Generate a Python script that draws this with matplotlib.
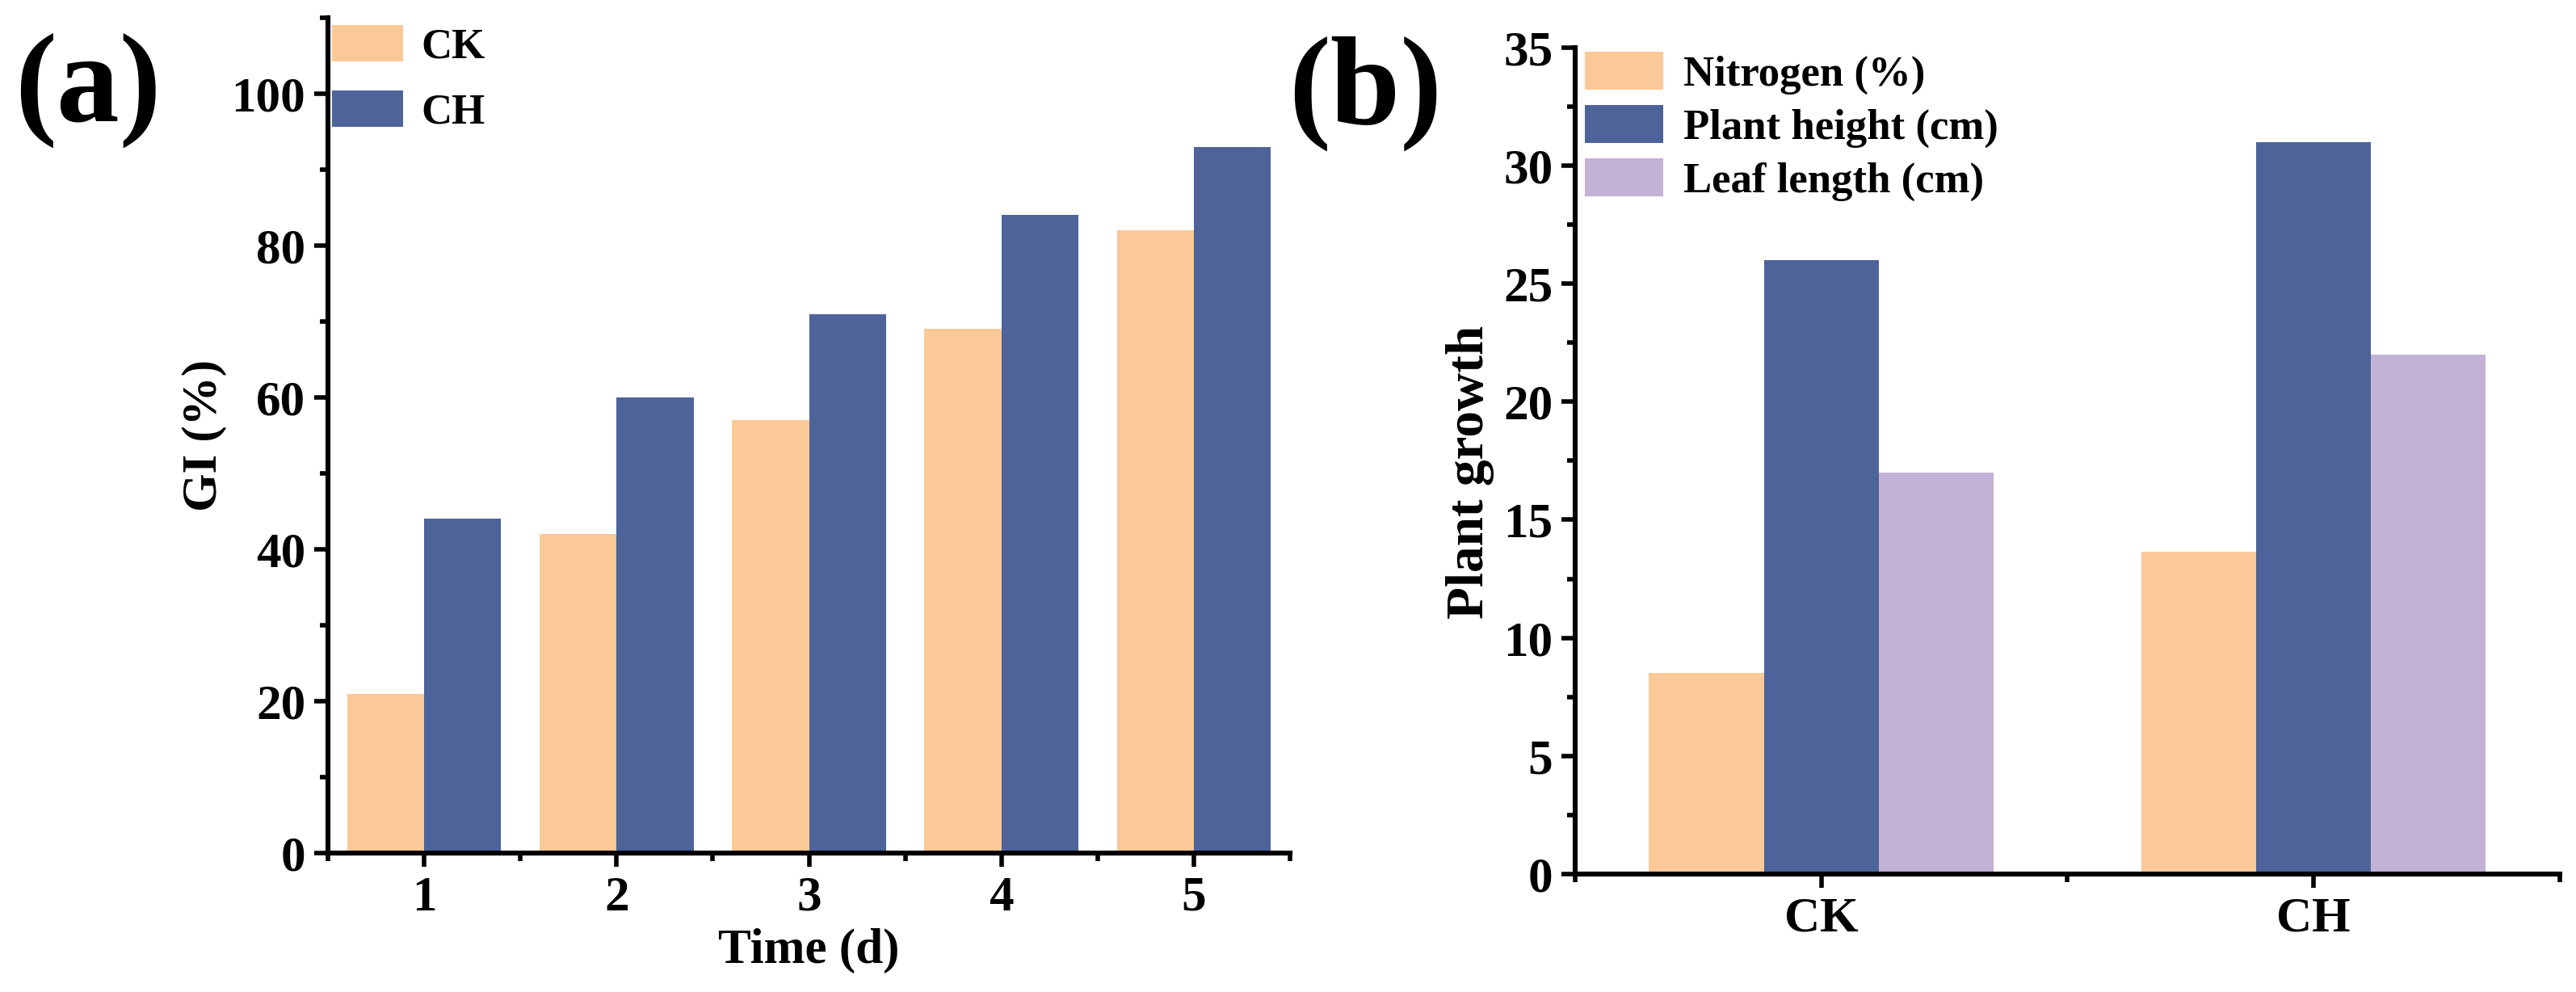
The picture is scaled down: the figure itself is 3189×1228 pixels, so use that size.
import matplotlib
matplotlib.use("Agg")
import matplotlib.pyplot as plt
import numpy as np
from matplotlib.ticker import MultipleLocator

# panel (a) data
days = [1, 2, 3, 4, 5]
gi_ck = [21, 42, 57, 69, 82]
gi_ch = [44, 60, 71, 84, 93]

# panel (b) data
groups = ["CK", "CH"]
nitrogen = [8.5, 13.65]
plant_height = [26, 31]
leaf_length = [17, 22]

c_peach = "#FBC898"
c_blue = "#4D6399"
c_lav = "#C2B2D6"

plt.rcParams['font.family'] = ['Liberation Serif', 'DejaVu Serif']
plt.rcParams['font.weight'] = 'bold'
plt.rcParams['axes.labelweight'] = 'bold'

fs_tick = 22
fs_lab = 22
fs_leg = 19

fig = plt.figure(figsize=(15.945, 6.14), dpi=200)
ax1 = fig.add_axes([0.1273, 0.140, 0.5008 - 0.1273, 0.982 - 0.140])
ax2 = fig.add_axes([0.6115, 0.119, 0.9937 - 0.6115, 0.952 - 0.119])


def style(ax):
    for s in ['top', 'right']:
        ax.spines[s].set_visible(False)
    for s in ['left', 'bottom']:
        ax.spines[s].set_linewidth(2.2)
    ax.tick_params(which='major', direction='out', length=6, width=2, labelsize=fs_tick, pad=4)
    ax.tick_params(which='minor', direction='out', length=3.5, width=2)
    for lb in ax.get_xticklabels() + ax.get_yticklabels():
        lb.set_fontweight('bold')


# (a)
x = np.array(days)
w = 0.4
ax1.bar(x - w / 2, gi_ck, w, color=c_peach, label="CK")
ax1.bar(x + w / 2, gi_ch, w, color=c_blue, label="CH")
ax1.set_xlim(0.5, 5.5)
ax1.set_ylim(0, 110)
ax1.set_xticks(days)
ax1.xaxis.set_minor_locator(MultipleLocator(0.5))
ax1.yaxis.set_major_locator(MultipleLocator(20))
ax1.yaxis.set_minor_locator(MultipleLocator(10))
style(ax1)
ax1.set_xlabel("Time (d)", fontsize=fs_lab, fontweight='bold')
ax1.set_ylabel("GI (%)", fontsize=fs_lab, fontweight='bold')
ax1.xaxis.set_label_coords(0.5, -0.09)
ax1.yaxis.set_label_coords(-0.105, 0.5)
ax1.legend(loc='upper left', bbox_to_anchor=(0.1289, 0.975), bbox_transform=fig.transFigure,
           frameon=False, fontsize=fs_leg, handlelength=1.67, handleheight=0.95,
           labelspacing=0.55, handletextpad=0.42, borderpad=0, borderaxespad=0)

# (b)
xb = np.arange(len(groups))
wb = 0.7 / 3
ax2.bar(xb - wb, nitrogen, wb, color=c_peach, label="Nitrogen (%)")
ax2.bar(xb, plant_height, wb, color=c_blue, label="Plant height (cm)")
ax2.bar(xb + wb, leaf_length, wb, color=c_lav, label="Leaf length (cm)")
ax2.set_xlim(-0.5, 1.5)
ax2.set_ylim(0, 35)
ax2.set_xticks(xb)
ax2.set_xticklabels(groups)
ax2.xaxis.set_minor_locator(MultipleLocator(0.5))
ax2.yaxis.set_major_locator(MultipleLocator(5))
ax2.yaxis.set_minor_locator(MultipleLocator(2.5))
style(ax2)
ax2.set_ylabel("Plant growth", fontsize=23.5, fontweight='bold')
ax2.yaxis.set_label_coords(-0.082, 0.486)
ax2.legend(loc='upper left', bbox_to_anchor=(0.6152, 0.948), bbox_transform=fig.transFigure,
           frameon=False, fontsize=fs_leg, handlelength=1.84, handleheight=1.0,
           labelspacing=0.25, handletextpad=0.47, borderpad=0, borderaxespad=0)

fig.text(0.034, 0.908, "(a)", fontsize=56, fontweight='bold', ha='center', va='center')
fig.text(0.530, 0.906, "(b)", fontsize=56, fontweight='bold', ha='center', va='center')

fig.savefig("out.png", dpi=200)
